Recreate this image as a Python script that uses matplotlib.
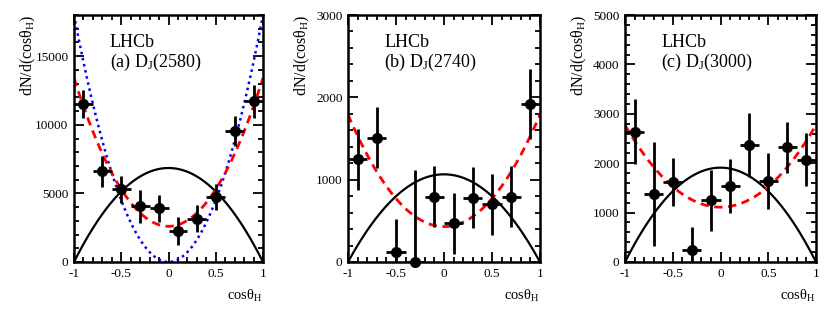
import numpy as np
import matplotlib
matplotlib.use("Agg")
import matplotlib.pyplot as plt
from matplotlib.ticker import MultipleLocator, FuncFormatter

plt.rcParams['font.family'] = ['Liberation Serif', 'DejaVu Serif']
plt.rcParams['mathtext.fontset'] = 'custom'
plt.rcParams['mathtext.rm'] = 'Liberation Serif'
plt.rcParams['mathtext.it'] = 'Liberation Serif:italic'

# bin centres of cos(theta_H)
bin_centers = [-0.9, -0.7, -0.5, -0.3, -0.1, 0.1, 0.3, 0.5, 0.7, 0.9]
bin_halfwidth = 0.1

# (a) D_J(2580)
yield_a = [11500, 6600, 5300, 4050, 3900, 2250, 3150, 4750, 9550, 11700]
err_a = [1000, 1100, 1000, 1200, 1000, 1000, 1000, 950, 1100, 1200]
# (b) D_J(2740)
yield_b = [1250, 1510, 120, 0, 790, 470, 780, 700, 790, 1920]
err_b = [370, 370, 400, 1115, 370, 370, 370, 370, 370, 420]
# (c) D_J(3000)
yield_c = [2640, 1380, 1620, 250, 1250, 1540, 2370, 1640, 2320, 2070]
err_c = [650, 1050, 480, 460, 620, 540, 640, 560, 520, 540]

# curve parameters: solid = A(1-x^2), dashed = a + b x^2, dotted = c x^2
solid_amp = [6850, 1065, 1910]
dashed_const = [2600, 430, 1110]
dashed_quad = [10800, 1360, 1660]
dotted_quad_a = 18000

labels = ['(a) D$_{\\rm J}$(2580)', '(b) D$_{\\rm J}$(2740)', '(c) D$_{\\rm J}$(3000)']
ymax = [18000, 3000, 5000]
ymajor = [5000, 1000, 1000]
yminor = [1000, 200, 200]

fig = plt.figure(figsize=(8.3, 3.28), dpi=100)
lefts = [74, 348, 625]
rights = [263, 540, 816]
top_px, bot_px = 15, 262
W, H = 830, 328

data = [(yield_a, err_a), (yield_b, err_b), (yield_c, err_c)]

def fmt(v, pos):
    if abs(v - round(v)) < 1e-9:
        s = '%d' % round(v)
    else:
        s = ('%.1f' % v)
    return s

xs = np.linspace(-1, 1, 400)
for i in range(3):
    l, r = lefts[i], rights[i]
    ax = fig.add_axes([l / W, 1 - bot_px / H, (r - l) / W, (bot_px - top_px) / H])
    y, e = data[i]
    ax.plot(xs, solid_amp[i] * (1 - xs**2), color='black', lw=1.6)
    if i == 0:
        ax.plot(xs, dotted_quad_a * xs**2, color='blue', lw=1.8, ls=(0, (1, 1.5)))
    ax.plot(xs, dashed_const[i] + dashed_quad[i] * xs**2, color='red', lw=2.0, ls=(0, (3, 2)))
    ax.errorbar(bin_centers, y, xerr=bin_halfwidth, yerr=e, fmt='none', ecolor='black',
                elinewidth=2.0, capsize=0)
    ax.plot(bin_centers, y, 'o', color='black', ms=7, clip_on=False, zorder=5)
    ax.set_xlim(-1, 1)
    ax.set_ylim(0, ymax[i])
    ax.xaxis.set_major_locator(MultipleLocator(0.5))
    ax.xaxis.set_minor_locator(MultipleLocator(0.1))
    ax.yaxis.set_major_locator(MultipleLocator(ymajor[i]))
    ax.yaxis.set_minor_locator(MultipleLocator(yminor[i]))
    ax.xaxis.set_major_formatter(FuncFormatter(fmt))
    ax.yaxis.set_major_formatter(FuncFormatter(fmt))
    ax.tick_params(which='both', direction='in', top=True, right=True, labelsize=9.5, width=1.3)
    ax.tick_params(which='major', length=7, pad=4)
    ax.tick_params(which='minor', length=3.5)
    for sp in ax.spines.values():
        sp.set_linewidth(1.8)
    ax.text(0.19, 0.87, 'LHCb', transform=ax.transAxes, fontsize=13, va='baseline')
    ax.text(0.19, 0.79, labels[i], transform=ax.transAxes, fontsize=13, va='baseline')
    ax.text(1.0, -0.155, 'cosθ$_{\\rm H}$', transform=ax.transAxes, fontsize=10.5,
            ha='right', va='baseline')
    fig.text((l - 46) / W, 1 - 14 / H, 'dN/d(cosθ$_{\\rm H}$)', rotation=90, fontsize=11.5,
             ha='center', va='top')

fig.savefig('out.png', dpi=100)
